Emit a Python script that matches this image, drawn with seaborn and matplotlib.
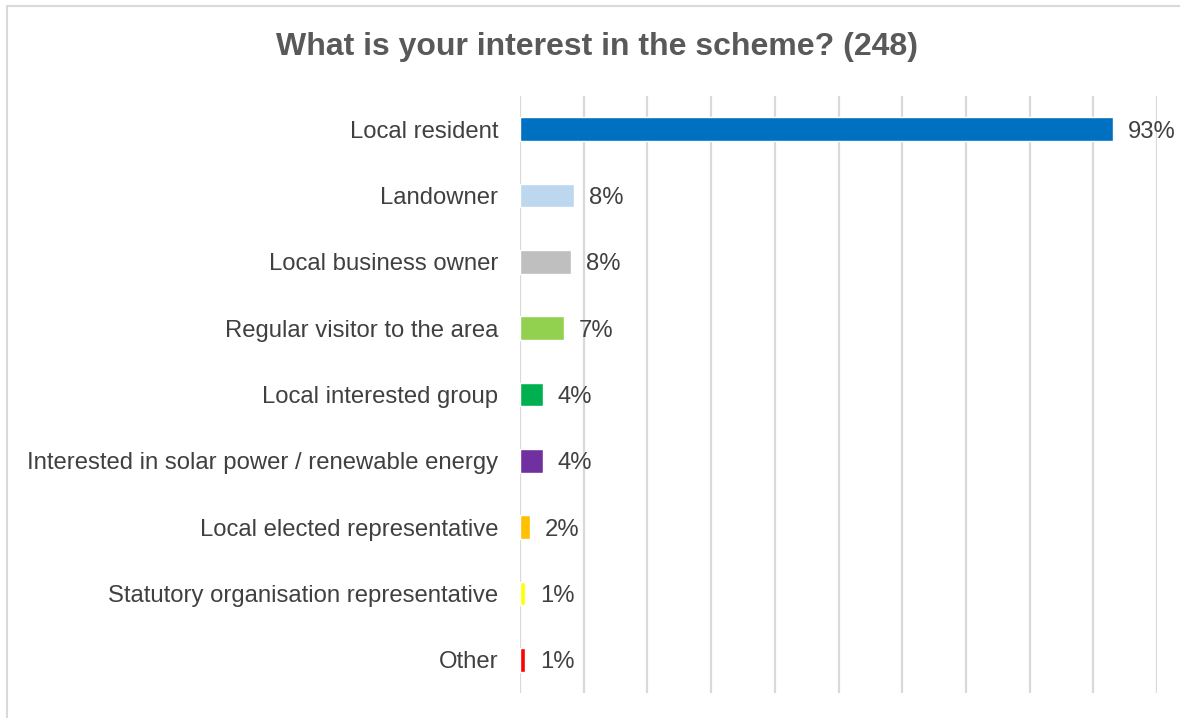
import matplotlib
matplotlib.use("Agg")
import matplotlib.pyplot as plt
import seaborn as sns
import pandas as pd
from matplotlib.patches import Rectangle

# Survey responses (n = 248), multiple answers allowed
categories = [
    "Local resident",
    "Landowner",
    "Local business owner",
    "Regular visitor to the area",
    "Local interested group",
    "Interested in solar power / renewable energy",
    "Local elected representative",
    "Statutory organisation representative",
    "Other",
]
total_respondents = 248
counts = [231, 21, 20, 17, 9, 9, 4, 2, 2]
bar_colors = ["#0070C0", "#BDD7EE", "#BFBFBF", "#92D050", "#00B050",
              "#7030A0", "#FFC000", "#FFFF00", "#FF0000"]
title = "What is your interest in the scheme? (248)"

shares = [c / total_respondents * 100 for c in counts]
df = pd.DataFrame({"category": categories, "share": shares})

sns.set_theme(style="white")
plt.rcParams["font.family"] = ["Liberation Sans", "DejaVu Sans"]

fig = plt.figure(figsize=(11.8, 7.18), dpi=100)
ax = fig.add_axes([520 / 1180, 1 - 693 / 718, (1157 - 520) / 1180, (693 - 96) / 718])

sns.barplot(data=df, y="category", x="share", hue="category",
            palette=bar_colors, order=categories, hue_order=categories,
            width=0.36, legend=False, ax=ax, saturation=1)

ax.set_xlim(0, 100)
ax.set_ylim(len(categories) - 0.5, -0.5)
ax.set_xticks(range(0, 101, 10))
ax.xaxis.grid(True, color="#D9D9D9", linewidth=1.6)
ax.set_axisbelow(True)
ax.tick_params(axis="x", bottom=False, labelbottom=False)
ax.tick_params(axis="y", left=False, length=0, labelsize=17.2,
               labelcolor="#404040", pad=15.5)
ax.set_xlabel("")
ax.set_ylabel("")
for s in ax.spines.values():
    s.set_visible(False)

for i, v in enumerate(shares):
    ax.text(v + 2.3, i, f"{v:.0f}%", va="center_baseline", ha="left",
            fontsize=17.2, color="#404040")

fig.text(597 / 1180, 1 - 47 / 718, title, ha="center", va="center",
         fontsize=23, fontweight="bold", color="#595959")

# outer chart frame (runs off the right and bottom edges)
fig.patches.append(Rectangle((7 / 1180, -0.1), 1.2, 1 - 6 / 718 + 0.1,
                             transform=fig.transFigure, fill=False,
                             edgecolor="#D9D9D9", linewidth=1.5))

fig.savefig("out.png", dpi=100, facecolor="white")
